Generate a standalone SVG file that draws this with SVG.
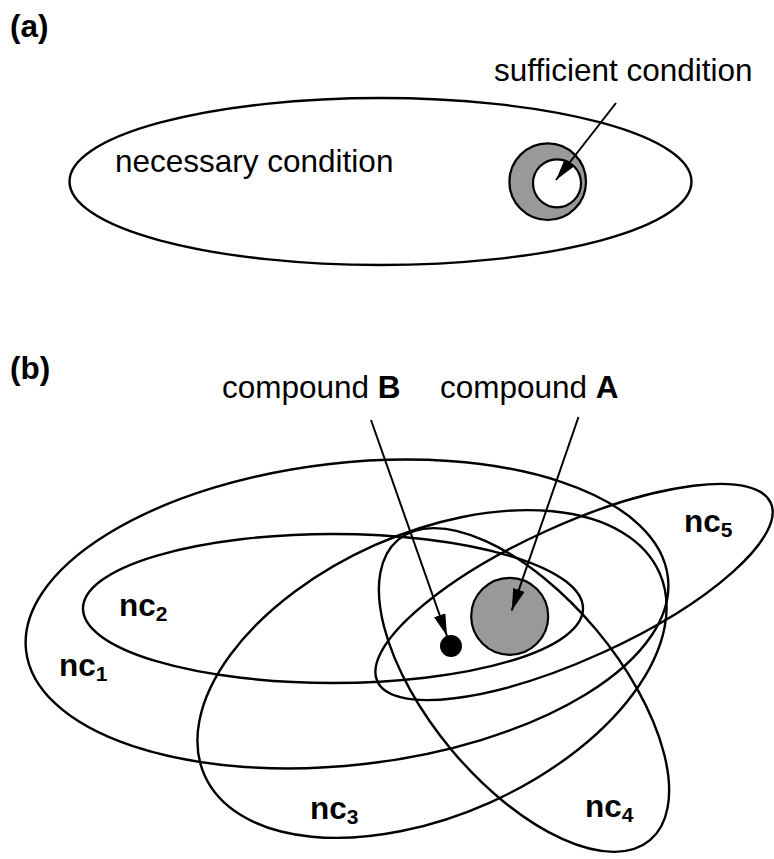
<svg xmlns="http://www.w3.org/2000/svg" width="774" height="859" viewBox="0 0 774 859">
<style>
text{font-family:"Liberation Sans",Arial,Helvetica,sans-serif;font-size:31.5px;fill:#000}
.b{font-weight:bold}
.sub{font-size:21px}
.ell{fill:none;stroke:#000;stroke-width:2.4}
.arr{fill:none;stroke:#000;stroke-width:2;marker-end:url(#ah)}
.gray{fill:#999999;stroke:#000;stroke-width:2.2}
</style>
<defs>
<marker id="ah" markerUnits="userSpaceOnUse" viewBox="0 -6 22 12" refX="22" refY="0" markerWidth="22" markerHeight="12" orient="auto">
<path d="M0,-6 L22,0 L0,6 z" fill="#000"/>
</marker>
</defs>

<text id="label-a" class="b" x="10" y="37">(a)</text>
<g id="necessary">
<ellipse class="ell" cx="380.5" cy="181.5" rx="311" ry="83.5"/>
<text x="115" y="172">necessary condition</text>
</g>
<g id="sufficient">
<circle class="gray" cx="547.7" cy="181.7" r="38.3"/>
<circle cx="557" cy="183.3" r="24" fill="#fff" stroke="#000" stroke-width="2.2"/>
<text x="494" y="81">sufficient condition</text>
</g>

<text id="label-b" class="b" x="10" y="379">(b)</text>
<g id="nc1">
<ellipse class="ell" cx="347" cy="614" rx="323" ry="151" transform="rotate(-6.5 347 614)"/>
<text class="b" x="59" y="676">nc<tspan class="sub" dy="5">1</tspan></text>
</g>
<g id="nc2">
<ellipse class="ell" cx="333" cy="608.5" rx="250" ry="74.5"/>
<text class="b" x="119" y="616">nc<tspan class="sub" dy="5">2</tspan></text>
</g>
<g id="nc3">
<ellipse class="ell" cx="432" cy="674" rx="249" ry="141" transform="rotate(-24 432 674)"/>
<text class="b" x="310" y="819">nc<tspan class="sub" dy="5">3</tspan></text>
</g>
<g id="nc4">
<ellipse class="ell" cx="524" cy="690" rx="196" ry="94" transform="rotate(50 524 690)"/>
<text class="b" x="585" y="817">nc<tspan class="sub" dy="5">4</tspan></text>
</g>
<g id="nc5">
<ellipse class="ell" cx="574" cy="592" rx="216" ry="67" transform="rotate(-24.4 574 592)"/>
<text class="b" x="684" y="532">nc<tspan class="sub" dy="5">5</tspan></text>
</g>
<g id="compoundA">
<circle class="gray" cx="509.7" cy="616.3" r="38.5"/>
<text x="440" y="398">compound <tspan class="b">A</tspan></text>
</g>
<g id="compoundB">
<circle cx="451" cy="646" r="11" fill="#000"/>
<text x="222" y="398">compound <tspan class="b">B</tspan></text>
</g>

<g id="connectors">
<line class="arr" x1="616" y1="103" x2="556" y2="180"/>
<line class="arr" x1="371" y1="420" x2="447" y2="636"/>
<line class="arr" x1="578.5" y1="417" x2="511.7" y2="610.7"/>
</g>
</svg>
